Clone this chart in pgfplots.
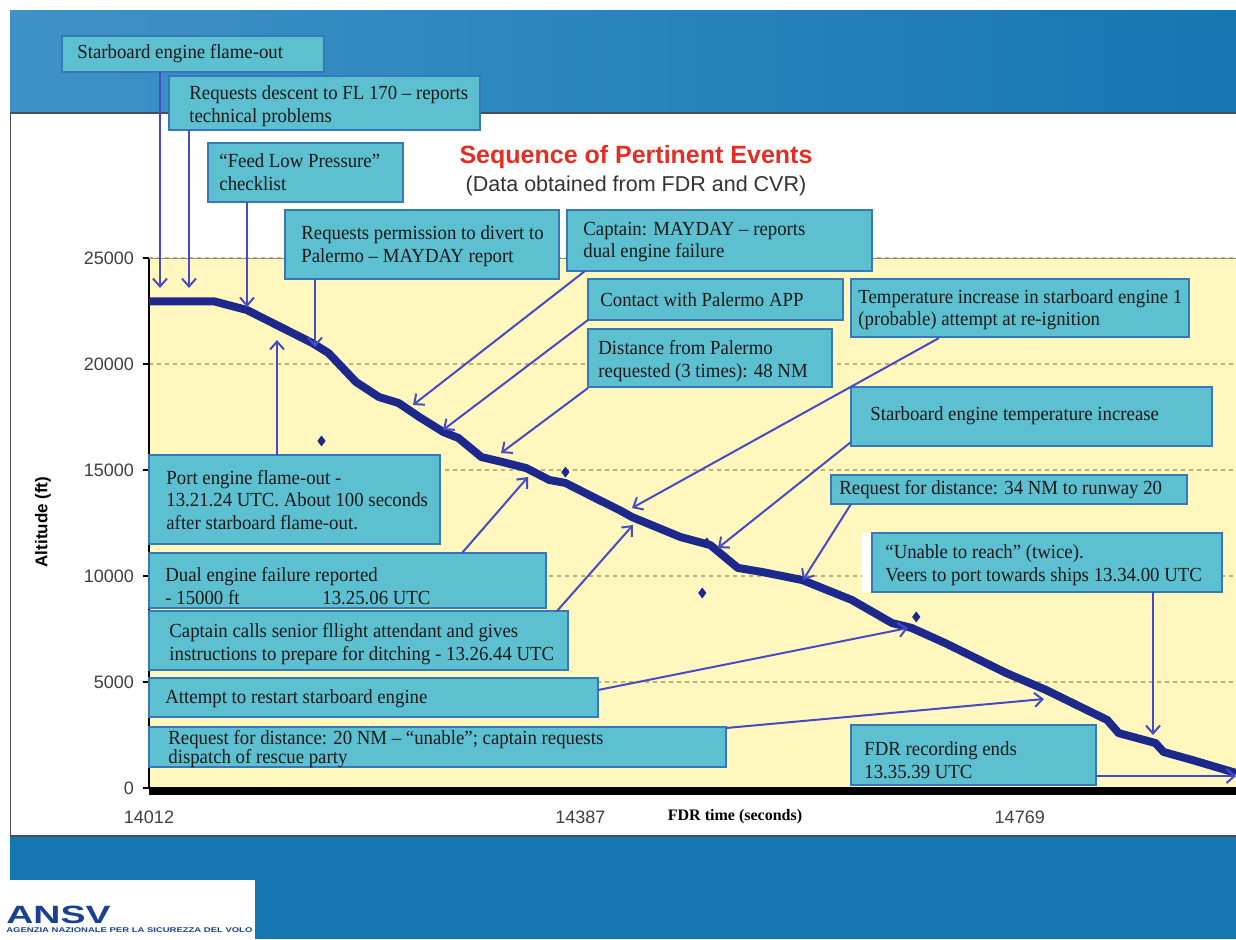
\documentclass[border=0pt]{standalone}
\usepackage{pgfplots}
\pgfplotsset{compat=1.18}
\usepackage{fontspec}
\usepackage{graphicx}
\usetikzlibrary{arrows.meta}
\setmainfont{Liberation Serif}
\newfontfamily\arial{Liberation Sans}
\newfontfamily\boxserif[FakeStretch=0.94,Ligatures=TeX]{Liberation Serif}
\newcommand\bx{\boxserif\fontsize{10}{11.2}\selectfont}
\definecolor{bannerL}{RGB}{62,146,200}
\definecolor{bannerR}{RGB}{22,118,178}
\definecolor{plotyellow}{RGB}{255,247,190}
\definecolor{boxfill}{RGB}{92,192,208}
\definecolor{boxline}{RGB}{55,120,185}
\definecolor{arrowc}{RGB}{70,75,195}
\definecolor{navy}{RGB}{28,40,140}
\definecolor{gridc}{RGB}{195,175,115}
\definecolor{titlered}{RGB}{230,45,35}
\definecolor{ansvblue}{RGB}{25,65,145}

\pgfplotstableread{
t alt
14012 22950
14069 22950
14097 22550
14123 21840
14154 20990
14168 20520
14192 19150
14212 18440
14229 18160
14247 17500
14268 16790
14281 16510
14301 15610
14319 15380
14340 15090
14360 14530
14374 14390
14398 13730
14421 13110
14432 12780
14474 11840
14500 11460
14524 10380
14545 10190
14580 9810
14623 8870
14658 7780
14675 7550
14704 6840
14757 5430
14792 4620
14845 3210
14855 2590
14887 2120
14894 1700
14919 1320
14957 710
}\altdata

\pgfplotstableread{
t alt
14162 16370
14493 9200
14679 8070
14374 14900
14497 11560
}\outliers

\newcommand\ebox[4]{\draw[boxline, fill=boxfill, line width=0.6pt] (#1,#2) rectangle (#3,#4);}
\newcommand\etext[3]{\node[anchor=west, align=left, inner sep=0pt, font=\bx, text=black!90] at (#1,#2) {#3};}

\begin{document}
\begin{tikzpicture}
\begin{scope}[x=0.5pt,y=-0.5pt]
\fill[white] (0,0) rectangle (1236,939);
\shade[left color=bannerL, right color=bannerR] (10,10) rectangle (1236,113);
\draw[black!70, line width=0.6pt] (10,113) -- (1236,113);
\draw[black!70, line width=0.5pt] (10,113) -- (10,836);
\fill[bannerR] (10,836) rectangle (1236,880);
\fill[bannerR] (255,880) rectangle (1236,939);
\draw[black!70, line width=0.6pt] (10,836) -- (1236,836);
\end{scope}

\begin{axis}[
  at={(74.5pt,-394pt)}, anchor=south west,
  scale only axis, width=543.5pt, height=265pt,
  xmin=14012, xmax=14957, ymin=0, ymax=25000,
  axis x line*=bottom, axis y line*=left,
  x axis line style={line width=4pt, -, yshift=-1.5pt},
  y axis line style={black, line width=0.6pt, -},
  axis background/.style={fill=plotyellow},
  xtick={14012,14387,14769}, ytick={0,5000,10000,15000,20000,25000},
  xtick style={draw=none},
  ytick style={black, line width=0.6pt},
  tick align=outside, major tick length=3pt,
  ymajorgrids, major grid style={gridc, dash pattern=on 2pt off 2pt, line width=0.6pt},
  ticklabel style={font=\arial\fontsize{9}{10}\selectfont, text=black!75},
  xticklabel style={yshift=-5pt},
  yticklabel style={xshift=-1pt},
  scaled ticks=false,
  /pgf/number format/1000 sep={},
  /pgf/number format/assume math mode=true,
]
\addplot[navy, line width=4pt, line join=round] table[x=t, y=alt] {\altdata};
\addplot[only marks, mark=diamond*, mark size=2.4pt, navy] table[x=t, y=alt] {\outliers};
\end{axis}

\begin{scope}[x=0.5pt,y=-0.5pt]
\draw[black!45, line width=0.5pt] (149,258) -- (1236,258);
% titles and labels
\node[font=\arial\bfseries\fontsize{12.5}{14}\selectfont, text=titlered] at (636,157) {Sequence of Pertinent Events};
\node[font=\arial\fontsize{10.75}{12}\selectfont, text=black!80] at (636,186) {(Data obtained from FDR and CVR)};
\node[font=\arial\bfseries\fontsize{8.5}{10}\selectfont, rotate=90] at (43,522) {Altitude (ft)};
\node[font=\bfseries\fontsize{8}{10}\selectfont] at (735,817) {FDR time (seconds)};
% logo
\node[anchor=base west, inner sep=0pt, text=ansvblue] at (6,923) {\scalebox{1.5}[1]{\arial\bfseries\fontsize{12.5}{12}\selectfont ANSV}};
\node[anchor=west, inner sep=0pt, text=ansvblue] at (6,930) {\resizebox{123pt}{2.4pt}{\arial\bfseries AGENZIA NAZIONALE PER LA SICUREZZA DEL VOLO}};
% boxes
\ebox{62}{36}{324}{72}\etext{77}{54}{Starboard engine flame-out}
\ebox{169}{76}{480}{130}\etext{189}{106}{Requests descent to FL 170 – reports\\technical problems}
\ebox{208}{143}{403}{202}\etext{219}{172}{“Feed Low Pressure”\\checklist}
\ebox{285}{210}{559}{279}\etext{301}{246}{Requests permission to divert to\\Palermo – MAYDAY report}
\ebox{567}{210}{872}{271}\etext{583}{242}{Captain: MAYDAY – reports\\dual engine failure}
\ebox{588}{279}{843}{320}\etext{600}{300}{Contact with Palermo APP}
\ebox{588}{329}{832}{387}\etext{598}{361}{Distance from Palermo\\requested (3 times): 48 NM}
\ebox{851}{279}{1189}{337}\etext{858}{310}{Temperature increase in starboard engine 1\\(probable) attempt at re-ignition}
\ebox{851}{387}{1212}{446}\etext{870}{416}{Starboard engine temperature increase}
\ebox{831}{475}{1187}{504}\etext{839}{490}{Request for distance: 34 NM to runway 20}
\fill[white] (862,533) rectangle (874,592);
\ebox{872}{533}{1222}{592}\etext{885}{565}{“Unable to reach” (twice).\\Veers to port towards ships 13.34.00 UTC}
\ebox{851}{725}{1096}{785}\etext{864}{760}{FDR recording ends\\13.35.39 UTC}
\ebox{149}{455}{440}{544}\etext{166}{500}{Port engine flame-out -\\13.21.24 UTC. About 100 seconds\\after starboard flame-out.}
\ebox{149}{553}{546}{608}\etext{165}{586}{Dual engine failure reported\\\makebox[78.5pt][l]{- 15000 ft}13.25.06 UTC}
\ebox{149}{611}{568}{670}\etext{169}{644}{Captain calls senior fllight attendant and gives\\instructions to prepare for ditching - 13.26.44 UTC}
\ebox{149}{678}{598}{717}\etext{165}{699}{Attempt to restart starboard engine}
\ebox{149}{727}{726}{767}\node[anchor=west, align=left, inner sep=0pt, font=\boxserif\fontsize{10}{9.8}\selectfont, text=black!90] at (168,749) {Request for distance: 20 NM – “unable”; captain requests\\dispatch of rescue party};
% arrows
\begin{scope}[arrowc, line width=1pt, -{Straight Barb[length=4pt,width=7pt]}]
\draw (160,72) -- (160,288);
\draw (189,130) -- (189,288);
\draw (247,202) -- (247,307);
\draw (315,279) -- (315,347);
\draw (277,455) -- (277,340);
\draw (585,271) -- (413,405);
\draw (588,320) -- (443,430);
\draw (588,388) -- (501,453);
\draw (939,338) -- (632,508);
\draw (851,442) -- (718,548);
\draw (851,504) -- (803,580);
\draw (1153,592) -- (1153,735);
\draw (1096,776) -- (1236,776);
\draw (462,553) -- (528,477);
\draw (557,611) -- (633,525);
\draw (598,690) -- (908,628);
\draw (726,728) -- (1044,699);
\end{scope}
\end{scope}
\pgfresetboundingbox
\path[use as bounding box] (0,0) rectangle (618pt,-469.5pt);
\end{tikzpicture}
\end{document}
